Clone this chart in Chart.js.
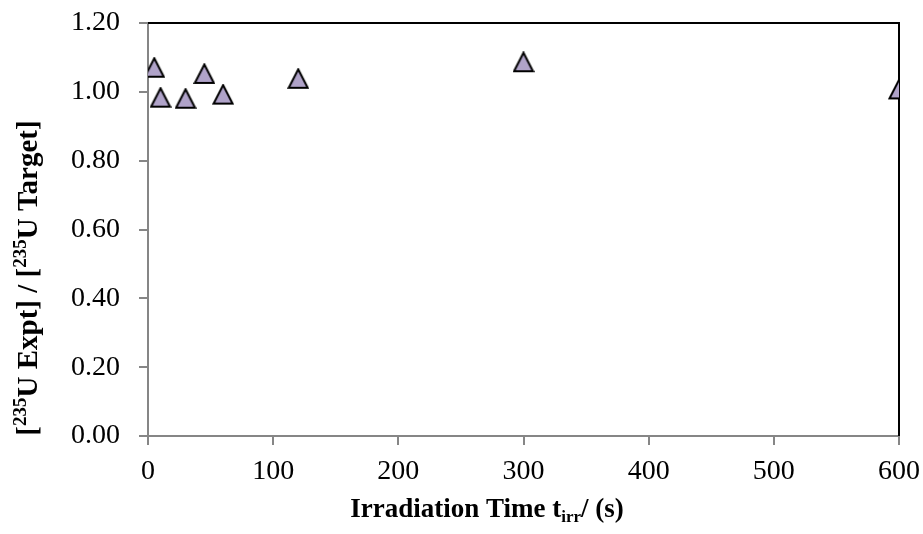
<!DOCTYPE html>
<html>
<head>
<meta charset="utf-8">
<script src="https://cdn.jsdelivr.net/npm/chart.js@4.4.1/dist/chart.umd.min.js"></script>
<style>
  html, body { margin: 0; padding: 0; background: #fff; }
  #wrap { width: 923px; height: 534px; position: relative; }
</style>
</head>
<body>
<div id="wrap"><canvas id="chart"></canvas></div>
<script>
// Irradiation time (s) and measured / target 235U ratio
const irradiationTimes = [5, 10, 30, 45, 60, 120, 300, 600];
const uraniumRatio = [1.07, 0.983, 0.980, 1.052, 0.992, 1.038, 1.086, 1.007];
const xTicks = [0, 100, 200, 300, 400, 500, 600];
const yTicks = [0, 0.2, 0.4, 0.6, 0.8, 1.0, 1.2];

const FONT = '"Liberation Serif", "DejaVu Serif", serif';
const AXIS_GREY = '#868686';

// Excel-style triangle marker, centred on its bounding box
function makeTriangle() {
    const c = document.createElement('canvas');
    c.width = 22;
    c.height = 22;
    const g = c.getContext('2d');
    g.beginPath();
    g.moveTo(11, 1.5);
    g.lineTo(20.5, 20);
    g.lineTo(1.5, 20);
    g.closePath();
    g.fillStyle = '#b0a3c9';
    g.fill();
    g.lineWidth = 2;
    g.lineJoin = 'miter';
    g.strokeStyle = '#000';
    g.stroke();
    return c;
}

// draws a run of text pieces, some raised or lowered
function drawRich(ctx, parts, x, y, align) {
    let total = 0;
    parts.forEach(p => {
        ctx.font = `bold ${p.size}px ${FONT}`;
        p.w = ctx.measureText(p.text).width;
        total += p.w;
    });
    let cx = align === 'center' ? x - total / 2 : x;
    parts.forEach(p => {
        ctx.font = `bold ${p.size}px ${FONT}`;
        ctx.fillText(p.text, cx, y + (p.dy || 0));
        cx += p.w;
    });
}

const framePlugin = {
    id: 'frame',
    beforeDatasetsDraw(chart) {
        const { ctx, chartArea: a } = chart;
        ctx.save();
        ctx.strokeStyle = '#000';
        ctx.lineWidth = 2;
        ctx.beginPath();
        ctx.moveTo(a.left, a.top);
        ctx.lineTo(a.right, a.top);
        ctx.lineTo(a.right, a.bottom);
        ctx.stroke();
        ctx.restore();
    },
    afterDraw(chart) {
        const ctx = chart.ctx;
        ctx.save();
        ctx.fillStyle = '#000';
        ctx.textAlign = 'left';
        ctx.textBaseline = 'alphabetic';

        drawRich(ctx, [
            { text: 'Irradiation Time t', size: 27 },
            { text: 'irr', size: 17, dy: 5 },
            { text: '/ (s)', size: 27 }
        ], 487, 517, 'center');

        ctx.translate(37, 278);
        ctx.rotate(-Math.PI / 2);
        drawRich(ctx, [
            { text: '[', size: 29 },
            { text: '235', size: 19, dy: -11 },
            { text: 'U Expt] / [', size: 29 },
            { text: '235', size: 19, dy: -11 },
            { text: 'U Target]', size: 29 }
        ], 0, 0, 'center');
        ctx.restore();
    }
};

new Chart(document.getElementById('chart'), {
    type: 'scatter',
    data: {
        datasets: [{
            label: 'ratio',
            data: irradiationTimes.map((t, i) => ({ x: t, y: uraniumRatio[i] })),
            pointStyle: makeTriangle(),
            pointRadius: 11,
            pointHoverRadius: 11
        }]
    },
    options: {
        responsive: true,
        maintainAspectRatio: false,
        animation: false,
        layout: { padding: { top: 23, right: 24, left: 0, bottom: 0 } },
        plugins: {
            legend: { display: false },
            tooltip: { enabled: false }
        },
        scales: {
            x: {
                type: 'linear',
                min: 0,
                max: 600,
                afterFit: s => {
                    s.height = 98;
                    s.paddingLeft = 0;
                    s.paddingRight = 0;
                },
                afterBuildTicks: s => { s.ticks = xTicks.map(v => ({ value: v })); },
                ticks: {
                    font: { family: FONT, size: 28 },
                    color: '#000',
                    padding: 10,
                    maxRotation: 0
                },
                grid: {
                    drawOnChartArea: false,
                    tickLength: 9,
                    color: AXIS_GREY,
                    lineWidth: 2
                },
                border: { color: AXIS_GREY, width: 2 }
            },
            y: {
                min: 0,
                max: 1.2,
                afterFit: s => {
                    s.width = 148;
                    s.paddingTop = 0;
                    s.paddingBottom = 0;
                },
                afterBuildTicks: s => { s.ticks = yTicks.map(v => ({ value: v })); },
                ticks: {
                    font: { family: FONT, size: 28 },
                    color: '#000',
                    padding: 19,
                    callback: v => v.toFixed(2)
                },
                grid: {
                    drawOnChartArea: false,
                    tickLength: 9,
                    color: AXIS_GREY,
                    lineWidth: 2
                },
                border: { color: AXIS_GREY, width: 2 }
            }
        }
    },
    plugins: [framePlugin]
});
</script>
</body>
</html>
